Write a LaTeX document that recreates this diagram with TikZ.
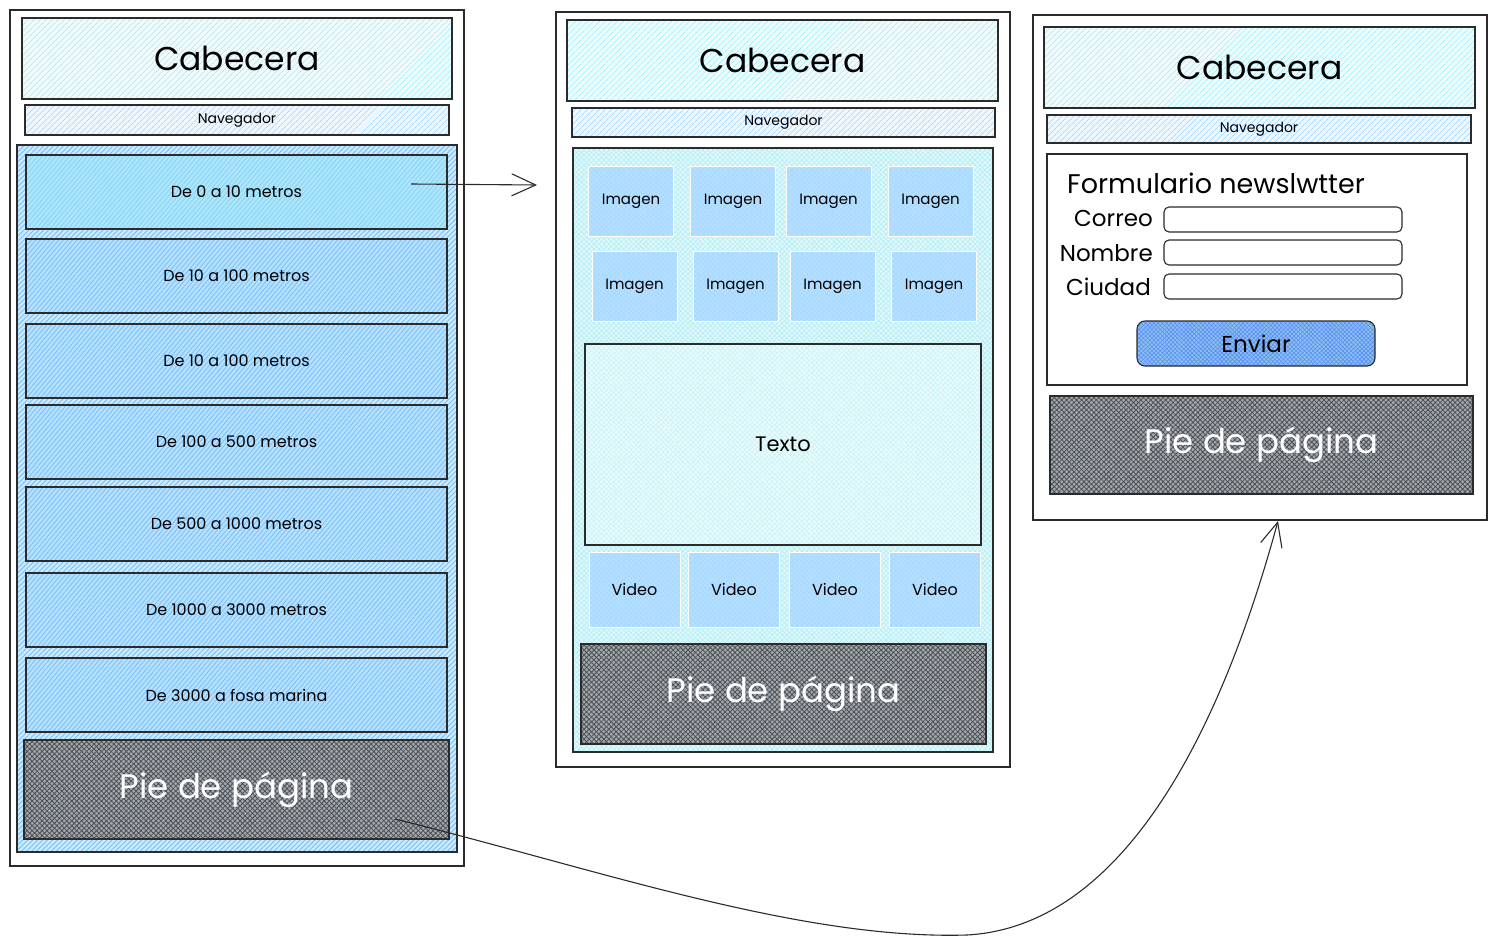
\documentclass[tikz,border=0pt]{standalone}
\usepackage{fontspec}
\setmainfont{Poppins}
\usetikzlibrary{arrows.meta,positioning,patterns.meta}
\definecolor{exInk}{HTML}{2B2B2B}
\definecolor{exCyan}{HTML}{99E9F2}
\definecolor{exBlue}{HTML}{A5D8FF}
\definecolor{exSky}{HTML}{74C0FC}
\definecolor{exGray}{HTML}{495057}
\definecolor{exBtn}{HTML}{4A9FE8}

\begin{document}
\begin{tikzpicture}[x=1pt,y=-1pt,
  frm/.style={draw=exInk,line width=1.3pt,fill=white,inner sep=0pt},
  hdr/.style={draw=exInk,line width=1.3pt,inner sep=0pt,preaction={fill=exCyan!18},
              pattern={Lines[angle=45,distance=4pt,line width=.7pt]},pattern color=exCyan!85,
              font=\fontsize{33}{38}\selectfont},
  nav/.style={draw=exInk,line width=1.2pt,inner sep=0pt,preaction={fill=exBlue!20},
              pattern={Lines[angle=45,distance=4pt,line width=.7pt]},pattern color=exBlue,
              font=\fontsize{14}{16}\selectfont},
  zone/.style={draw=exInk,line width=1.2pt,inner sep=0pt,preaction={fill=exBlue!55},
              pattern={Lines[angle=45,distance=3.5pt,line width=.9pt]},pattern color=exSky},
  dep/.style={draw=exInk,line width=1.2pt,inner sep=0pt,preaction={fill=exBlue!80},
              pattern={Lines[angle=50,distance=3.5pt,line width=.8pt]},pattern color=exSky,
              minimum width=421pt,minimum height=74pt,font=\fontsize{16}{18}\selectfont},
  foot/.style={draw=exInk,line width=1.2pt,inner sep=0pt,preaction={fill=exGray!50},
              pattern={Hatch[angle=45,distance=3.5pt,line width=.8pt]},pattern color=exGray,
              text=white,font=\fontsize{34}{38}\selectfont},
  grid/.style={draw=exInk,line width=1.2pt,inner sep=0pt,preaction={fill=exCyan!30},
              pattern={Hatch[angle=45,distance=3.5pt,line width=.6pt]},pattern color=exCyan!75},
  tile/.style={draw=white,line width=.8pt,inner sep=0pt,preaction={fill=exBlue!80},
              pattern={Hatch[angle=45,distance=3.5pt,line width=.6pt]},pattern color=exBlue,
              minimum width=85pt,minimum height=70pt,font=\fontsize{15}{17}\selectfont},
  vid/.style={tile,minimum width=91pt,minimum height=75pt,font=\fontsize{16}{18}\selectfont},
  fld/.style={draw=exInk,line width=1.1pt,rounded corners=5pt,inner sep=0pt,fill=white,
              minimum width=238pt,minimum height=25pt},
  lab/.style={anchor=east,inner sep=0pt,font=\fontsize{23}{27}\selectfont},
  btn/.style={draw=exInk,line width=1.1pt,rounded corners=8pt,inner sep=0pt,preaction={fill=exBtn!65},
              pattern={Hatch[angle=45,distance=3pt,line width=.6pt]},pattern color=exBtn!70!blue!80,
              minimum width=238pt,minimum height=45pt,font=\fontsize{23}{27}\selectfont},
  conn/.style={draw=exInk,line width=1.1pt,-{Straight Barb[length=24pt,width=22pt]}}
]
\useasboundingbox (0,0) rectangle (1497,947);

% ---- Left page: depth index -------------------------------
\node[frm,minimum width=454pt,minimum height=856pt] (lpg) at (237,438) {};
\node[hdr,minimum width=430pt,minimum height=81pt] (lhdr) at (237,58.5) {Cabecera};
\node[nav,minimum width=424pt,minimum height=30pt] (lnav) at (237,120) {Navegador};
\node[zone,minimum width=440pt,minimum height=707pt] (lzone) at (237,498.5) {};
\node[dep,preaction={fill=exCyan!50!exBlue!85},pattern color=exCyan!50!exSky] (d1) at (236.5,192) {De 0 a 10 metros};
\node[dep] (d2) at (236.5,276) {De 10 a 100 metros};
\node[dep] (d3) at (236.5,361) {De 10 a 100 metros};
\node[dep] (d4) at (236.5,442) {De 100 a 500 metros};
\node[dep] (d5) at (236.5,524) {De 500 a 1000 metros};
\node[dep] (d6) at (236.5,610) {De 1000 a 3000 metros};
\node[dep] (d7) at (236.5,695) {De 3000 a fosa marina};
\node[foot,minimum width=425pt,minimum height=99pt] (lfoot) at (236.5,789.5) {Pie de página};

% ---- Middle page: depth detail ----------------------------
\node[frm,minimum width=454pt,minimum height=755pt] (mpg) at (783,389.5) {};
\node[hdr,minimum width=431pt,minimum height=81pt] (mhdr) at (782.5,60.5) {Cabecera};
\node[nav,minimum width=423pt,minimum height=29pt] (mnav) at (783.5,122.5) {Navegador};
\node[grid,minimum width=420pt,minimum height=604pt] (mgrid) at (783,450) {};
\node[tile] (im1) at (631,201.5)   {Imagen};
\node[tile] (im2) at (733,201.5)   {Imagen};
\node[tile] (im3) at (828.5,201.5) {Imagen};
\node[tile] (im4) at (930.5,201.5) {Imagen};
\node[tile] (im5) at (634.5,286)   {Imagen};
\node[tile] (im6) at (735.5,286)   {Imagen};
\node[tile] (im7) at (832.5,286)   {Imagen};
\node[tile] (im8) at (934,286)     {Imagen};
\node[grid,preaction={fill=exCyan!20},pattern color=exCyan!55,
      minimum width=396pt,minimum height=201pt,font=\fontsize{21}{24}\selectfont] (mtxt) at (783,444.5) {Texto};
\node[vid] (v1) at (634.5,589.5) {Video};
\node[vid] (v2) at (734,589.5)   {Video};
\node[vid] (v3) at (835,589.5)   {Video};
\node[vid] (v4) at (935,589.5)   {Video};
\node[foot,minimum width=405pt,minimum height=100pt] (mfoot) at (783.5,694) {Pie de página};

% ---- Right page: newsletter -------------------------------
\node[frm,minimum width=454pt,minimum height=505pt] (rpg) at (1260,267.5) {};
\node[hdr,minimum width=431pt,minimum height=81pt] (rhdr) at (1259.5,67.5) {Cabecera};
\node[nav,minimum width=424pt,minimum height=28pt] (rnav) at (1259,129) {Navegador};
\node[frm,line width=1.1pt,minimum width=420pt,minimum height=231pt] (rform) at (1257,269.5) {};
\node[lab,anchor=west,font=\fontsize{27}{31}\selectfont] (ftit) at (1067,183) {Formulario newslwtter};
\node[lab] (lcor) at (1153,218) {Correo};
\node[lab] (lnom) at (1153,253) {Nombre};
\node[lab] (lciu) at (1151,287) {Ciudad};
\node[fld] (fcor) at (1283,219.5) {};
\node[fld] (fnom) at (1283,252.5) {};
\node[fld] (fciu) at (1283,286.5) {};
\node[btn] (env) at (1256,343.5) {Enviar};
\node[foot,minimum width=423pt,minimum height=98pt] (rfoot) at (1261.5,445) {Pie de página};

% ---- Links -------------------------------------------------
\coordinate (a1s) at (411,184);
\coordinate (a1e) at (537,185);
\coordinate (a2s) at (395,819);
\coordinate (a2e) at (1278,521);
\draw[conn] (a1s) -- (a1e);
\draw[conn] (a2s) .. controls (600,870) and (800,940) .. (967,935)
                  .. controls (1150,925) and (1240,660) .. (a2e);

\end{tikzpicture}
\end{document}
